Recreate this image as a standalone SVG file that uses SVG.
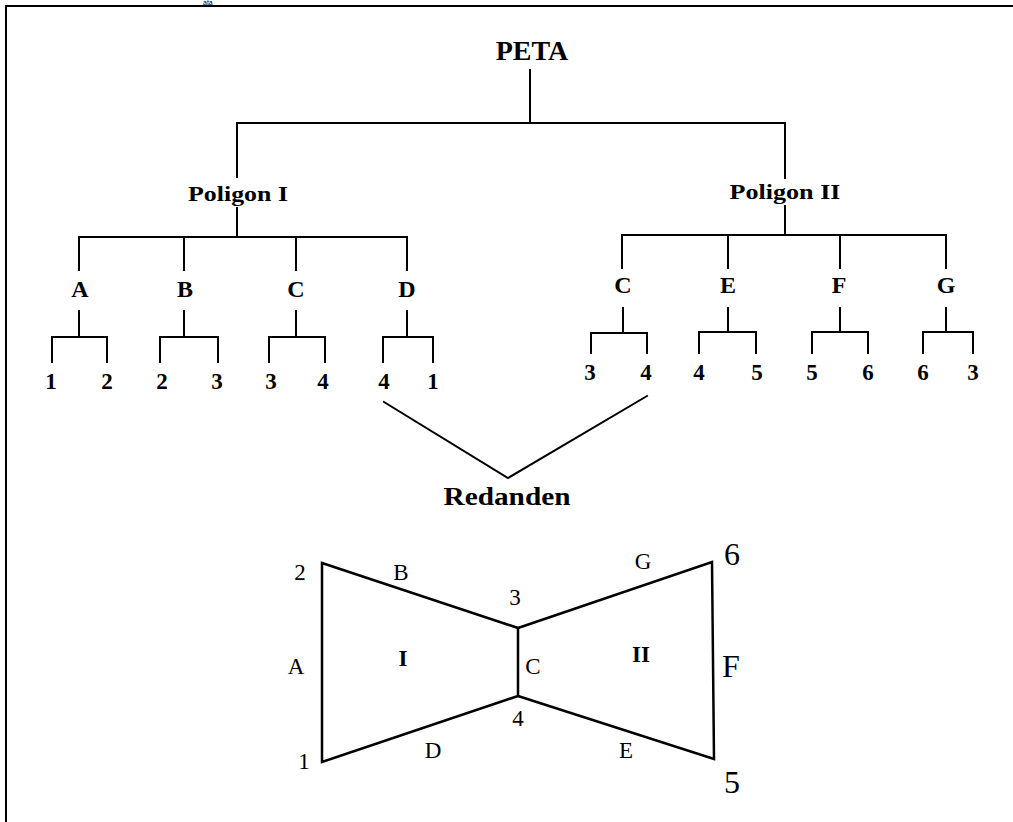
<svg xmlns="http://www.w3.org/2000/svg" width="1013" height="822" viewBox="0 0 1013 822">
<style>
.ln{stroke:#000;stroke-width:2;fill:none;stroke-linecap:square}
.bw{stroke:#000;stroke-width:2.5;fill:none;stroke-linejoin:miter}
.t{font-family:"Liberation Serif","Times New Roman",serif;fill:#000;text-anchor:middle}
.b{font-weight:bold}
</style>
<rect width="1013" height="822" fill="#fff"/>
<text x="203" y="5" style="font-family:'Liberation Sans',Arial,sans-serif;font-size:7px;fill:#000">ata</text>
<path class="ln" d="M6 6H1013M6 6V822"/>

<g id="connectors">
<path class="ln" d="M530 70V123M237 123H785M237 123V177M785 123V178"/>
<path class="ln" d="M237 208V237M79 237H407M79 237V270M184 237V270M296 237V270M407 237V270"/>
<path class="ln" d="M79 311V337M52 337H107M52 337V362M107 337V362"/>
<path class="ln" d="M184 311V337M160 337H218M160 337V362M218 337V362"/>
<path class="ln" d="M296 311V337M269 337H325M269 337V362M325 337V362"/>
<path class="ln" d="M407 311V337M383 337H433M383 337V362M433 337V362"/>
<path class="ln" d="M785 206V235M622 235H946M622 235V268M728 235V268M840 235V268M946 235V268"/>
<path class="ln" d="M623 308V333M591 333H647M591 333V353M647 333V353"/>
<path class="ln" d="M728 308V332M699 332H756M699 332V353M756 332V353"/>
<path class="ln" d="M840 308V332M812 332H868M812 332V353M868 332V353"/>
<path class="ln" d="M946 308V332M923 332H973M923 332V353M973 332V353"/>
<path class="ln" d="M384 402L508 478L647 396"/>
</g>

<g id="peta"><text class="t b" x="532" y="60" font-size="28">PETA</text></g>
<g id="poligon1"><text class="t b" x="238" y="201" font-size="21" textLength="100" lengthAdjust="spacingAndGlyphs">Poligon I</text></g>
<g id="poligon2"><text class="t b" x="785" y="199" font-size="21" textLength="111" lengthAdjust="spacingAndGlyphs">Poligon II</text></g>

<g id="p1-children" class="t b" font-size="24">
<text x="80" y="297">A</text><text x="185" y="297">B</text><text x="296" y="297">C</text><text x="407" y="297">D</text>
</g>
<g id="p1-leaves" class="t b" font-size="23">
<text x="51" y="389">1</text><text x="107" y="389">2</text>
<text x="162" y="389">2</text><text x="217" y="389">3</text>
<text x="271" y="389">3</text><text x="323" y="389">4</text>
<text x="384" y="389">4</text><text x="433" y="389">1</text>
</g>
<g id="p2-children" class="t b" font-size="24">
<text x="623" y="293">C</text><text x="728" y="293">E</text><text x="839" y="293">F</text><text x="946" y="293">G</text>
</g>
<g id="p2-leaves" class="t b" font-size="23">
<text x="590" y="380">3</text><text x="646" y="380">4</text>
<text x="699" y="380">4</text><text x="757" y="380">5</text>
<text x="812" y="380">5</text><text x="868" y="380">6</text>
<text x="923" y="380">6</text><text x="973" y="380">3</text>
</g>

<g id="redanden"><text class="t b" x="507" y="505" font-size="25" textLength="127" lengthAdjust="spacingAndGlyphs">Redanden</text></g>

<g id="bowtie">
<path class="bw" d="M322 563L518 628V696L322 762Z"/>
<path class="bw" d="M518 628L712 562L714 759L518 696"/>
<g class="t" font-size="23">
<text x="300" y="580">2</text>
<text x="401" y="580">B</text>
<text x="515" y="605">3</text>
<text x="643" y="569">G</text>
<text x="296" y="674">A</text>
<text x="533" y="674">C</text>
<text x="518" y="726">4</text>
<text x="304" y="769">1</text>
<text x="433" y="758">D</text>
<text x="626" y="758">E</text>
<text class="b" x="403" y="666">I</text>
<text class="b" x="641" y="662">II</text>
</g>
<g class="t" font-size="32">
<text x="732" y="565">6</text>
<text x="731" y="677">F</text>
<text x="732" y="793">5</text>
</g>
</g>
</svg>
